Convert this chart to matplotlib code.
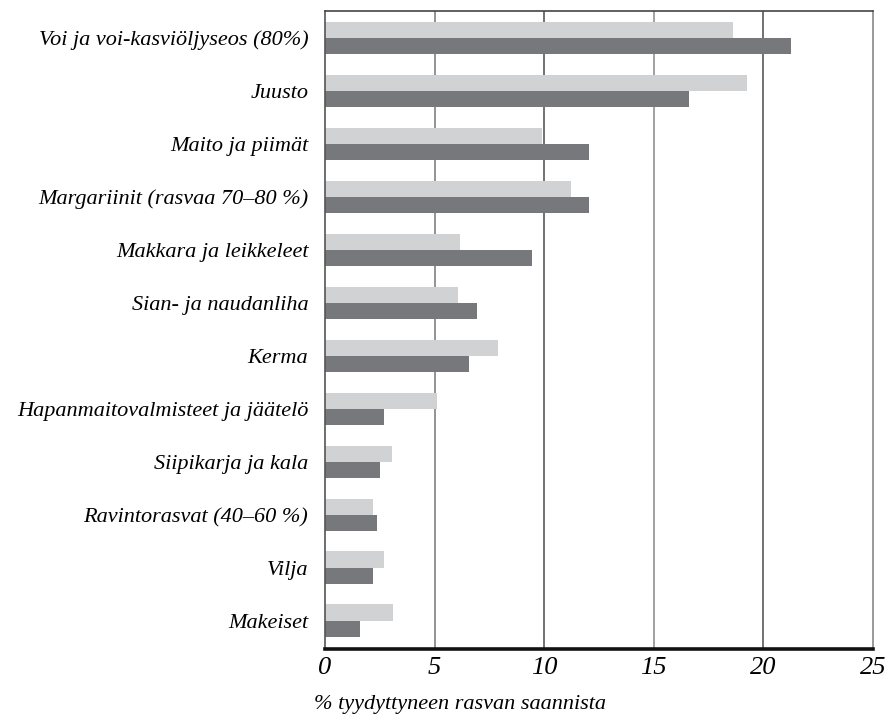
import matplotlib
matplotlib.use("Agg")
import matplotlib.pyplot as plt
import numpy as np

categories = [
    "Voi ja voi-kasviöljyseos (80%)",
    "Juusto",
    "Maito ja piimät",
    "Margariinit (rasvaa 70–80 %)",
    "Makkara ja leikkeleet",
    "Sian- ja naudanliha",
    "Kerma",
    "Hapanmaitovalmisteet ja jäätelö",
    "Siipikarja ja kala",
    "Ravintorasvat (40–60 %)",
    "Vilja",
    "Makeiset",
]
series_light = [18.6, 19.25, 9.9, 11.2, 6.15, 6.05, 7.9, 5.1, 3.05, 2.2, 2.7, 3.1]
series_dark = [21.25, 16.6, 12.05, 12.05, 9.45, 6.95, 6.55, 2.7, 2.5, 2.35, 2.2, 1.6]
xticks = [0, 5, 10, 15, 20, 25]
xlabel = "% tyydyttyneen rasvan saannista"

FONT = "Liberation Serif"
light_c = "#d1d2d4"
dark_c = "#77787b"

fig = plt.figure(figsize=(8.96, 7.19), dpi=100)
W, H = 896, 719
ax = fig.add_axes([325 / W, 1 - 649 / H, (873 - 325) / W, (649 - 11) / H])

y = np.arange(len(categories))
h = 0.31
ax.barh(y - h / 2, series_light, height=h, color=light_c, zorder=2)
ax.barh(y + h / 2, series_dark, height=h, color=dark_c, zorder=2)

ax.set_xlim(0, 25)
ax.set_ylim(len(categories) - 1 + 0.53, -0.51)

grid_colors = {5: "#8a8a8a", 10: "#666666", 15: "#9a9a9a", 20: "#666666"}
for xv in xticks[1:-1]:
    ax.axvline(xv, color=grid_colors[xv], lw=1.3, zorder=1)

ax.set_yticks(y)
ax.set_yticklabels(categories, fontfamily=FONT, fontstyle="italic", fontsize=16)
ax.set_xticks(xticks)
ax.set_xticklabels([str(v) for v in xticks], fontfamily=FONT, fontstyle="italic", fontsize=19)
ax.tick_params(axis="y", length=0, pad=12)
ax.tick_params(axis="x", length=0, pad=6)

ax.spines["left"].set_color("#555555")
ax.spines["left"].set_linewidth(1.2)
ax.spines["top"].set_color("#444444")
ax.spines["top"].set_linewidth(1.2)
ax.spines["right"].set_color("#888888")
ax.spines["right"].set_linewidth(1.2)
ax.spines["bottom"].set_color("#111111")
ax.spines["bottom"].set_linewidth(2.6)

fig.text(314 / W, 1 - 705 / H, xlabel, fontfamily=FONT, fontstyle="italic",
         fontsize=16, ha="left", va="center")

fig.savefig("out.png", dpi=100)
